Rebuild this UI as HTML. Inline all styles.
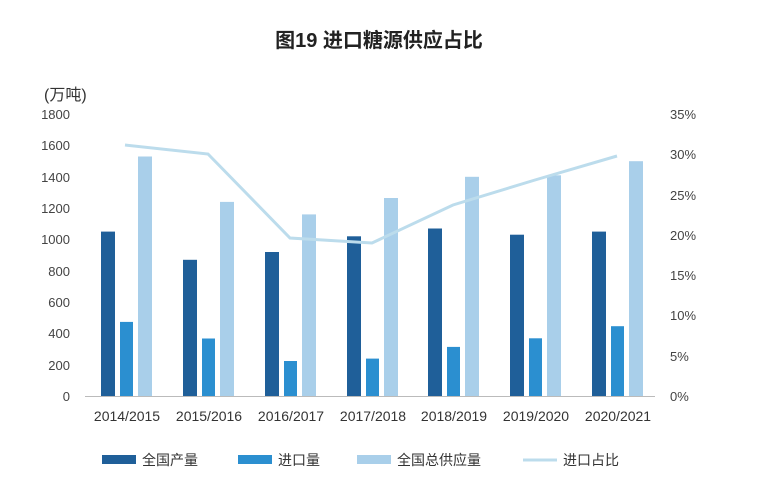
<!DOCTYPE html>
<html><head><meta charset="utf-8"><style>
body{margin:0;background:#fff;}
svg text{font-family:"Liberation Sans","Noto Sans CJK SC",sans-serif;}
</style></head><body>
<svg width="758" height="490" xmlns="http://www.w3.org/2000/svg">
<rect width="758" height="490" fill="#fff"/>
<text x="379" y="47" text-anchor="middle" font-size="20" font-weight="bold" fill="#222">图19  进口糖源供应占比</text>
<text x="44" y="100" font-size="16" fill="#333">(万吨)</text>
<g font-size="13" fill="#444" text-anchor="end">
<text x="70" y="401">0</text><text x="70" y="370">200</text><text x="70" y="338">400</text>
<text x="70" y="307">600</text><text x="70" y="276">800</text><text x="70" y="244">1000</text>
<text x="70" y="213">1200</text><text x="70" y="182">1400</text><text x="70" y="150">1600</text>
<text x="70" y="119">1800</text>
</g>
<g font-size="13" fill="#444" text-anchor="start">
<text x="670" y="401">0%</text><text x="670" y="361">5%</text><text x="670" y="320">10%</text>
<text x="670" y="280">15%</text><text x="670" y="240">20%</text><text x="670" y="200">25%</text>
<text x="670" y="159">30%</text><text x="670" y="119">35%</text>
</g>
<line x1="85" y1="396.5" x2="655" y2="396.5" stroke="#bbb" stroke-width="1"/>
<g id="bars">
<!-- per category: dark, mid, light -->
<g fill="#1f5f99">
<rect x="101" y="231.6" width="14" height="164.4"/>
<rect x="183" y="259.8" width="14" height="136.2"/>
<rect x="265" y="252" width="14" height="144"/>
<rect x="347" y="236.3" width="14" height="159.7"/>
<rect x="428" y="228.5" width="14" height="167.5"/>
<rect x="510" y="234.7" width="14" height="161.3"/>
<rect x="592" y="231.6" width="14" height="164.4"/>
</g>
<g fill="#2b8fd0">
<rect x="120" y="321.9" width="13" height="74.1"/>
<rect x="202" y="338.5" width="13" height="57.5"/>
<rect x="284" y="361" width="13" height="35"/>
<rect x="366" y="358.6" width="13" height="37.4"/>
<rect x="447" y="346.9" width="13" height="49.1"/>
<rect x="529" y="338.3" width="13" height="57.7"/>
<rect x="611" y="326.2" width="13" height="69.8"/>
</g>
<g fill="#a9cfea">
<rect x="138" y="156.5" width="14" height="239.5"/>
<rect x="220" y="201.9" width="14" height="194.1"/>
<rect x="302" y="214.4" width="14" height="181.6"/>
<rect x="384" y="198" width="14" height="198"/>
<rect x="465" y="176.8" width="14" height="219.2"/>
<rect x="547" y="175.3" width="14" height="220.7"/>
<rect x="629" y="161.2" width="14" height="234.8"/>
</g>
</g>
<polyline points="125,145 208,154 290,238 372,243 453,205 535,180 617,156" fill="none" stroke="#bcdcec" stroke-width="3"/>
<g font-size="14" fill="#333" text-anchor="middle">
<text x="127" y="421">2014/2015</text><text x="209" y="421">2015/2016</text>
<text x="291" y="421">2016/2017</text><text x="373" y="421">2017/2018</text>
<text x="454" y="421">2018/2019</text><text x="536" y="421">2019/2020</text>
<text x="618" y="421">2020/2021</text>
</g>
<g font-size="14" fill="#333">
<rect x="102" y="455" width="34" height="9" fill="#1f5f99"/><text x="142" y="465">全国产量</text>
<rect x="238" y="455" width="34" height="9" fill="#2b8fd0"/><text x="278" y="465">进口量</text>
<rect x="357" y="455" width="34" height="9" fill="#a9cfea"/><text x="397" y="465">全国总供应量</text>
<line x1="523" y1="460" x2="557" y2="460" stroke="#bcdcec" stroke-width="3"/><text x="563" y="465">进口占比</text>
</g>
</svg>
</body></html>
